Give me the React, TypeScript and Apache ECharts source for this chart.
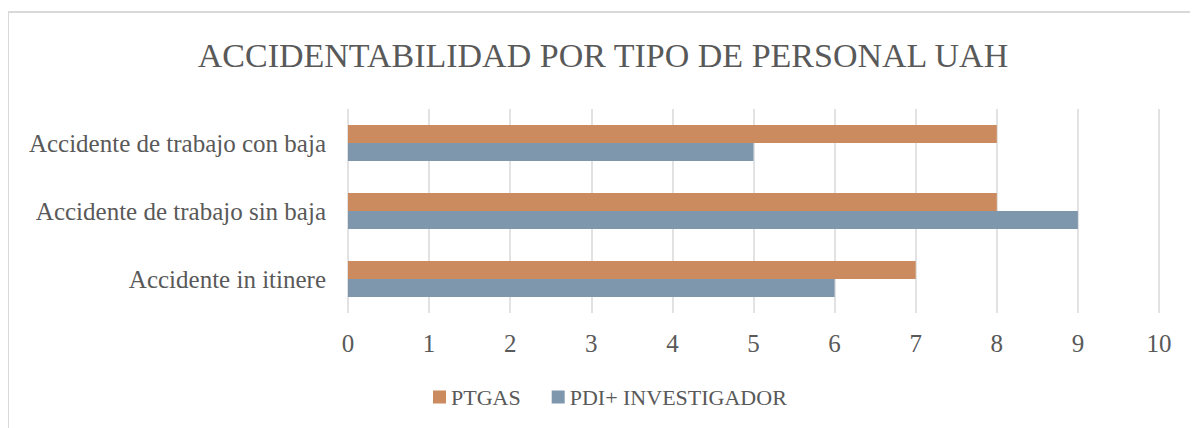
import React, { useEffect, useRef } from "react";
import * as echarts from "echarts";

const categories = [
  "Accidente in itinere",
  "Accidente de trabajo sin baja",
  "Accidente de trabajo con baja",
];
const ptgasValues = [7, 8, 8];
const pdiValues = [6, 9, 5];
const xTicks = { min: 0, max: 10, interval: 1 };
const titleText = "ACCIDENTABILIDAD POR TIPO DE PERSONAL UAH";
const seriesNames = ["PTGAS", "PDI+ INVESTIGADOR"];

const FONT = "'Liberation Serif', 'DejaVu Serif', serif";
const TEXT = "#595959";

export default function App() {
  const ref = useRef<HTMLDivElement>(null);
  useEffect(() => {
    if (!ref.current) return;
    const chart = echarts.init(ref.current, undefined, { renderer: "svg" });
    chart.setOption({
      animation: false,
      title: {
        text: titleText,
        left: "center",
        top: 25,
        textStyle: { fontFamily: FONT, fontSize: 34, fontWeight: "normal", color: TEXT },
      },
      graphic: [
        {
          type: "rect",
          shape: { x: 0, y: 4, width: 1300, height: 600 },
          style: { fill: "none", stroke: "#D9D9D9", lineWidth: 2 },
          silent: true,
        },
      ],
      legend: {
        data: seriesNames,
        left: 420,
        top: 373,
        itemWidth: 13,
        itemHeight: 13,
        itemGap: 31,
        icon: "rect",
        textStyle: { fontFamily: FONT, fontSize: 22, color: TEXT },
      },
      grid: { left: 340, right: 39, top: 101, bottom: 115, containLabel: false },
      xAxis: {
        type: "value",
        min: xTicks.min,
        max: xTicks.max,
        interval: xTicks.interval,
        axisLine: { show: false },
        axisTick: { show: false },
        splitLine: { show: true, lineStyle: { color: "#D9D9D9", width: 1.5 } },
        axisLabel: { fontFamily: FONT, fontSize: 25, color: TEXT, margin: 18 },
      },
      yAxis: {
        type: "category",
        data: categories,
        axisLine: { show: false },
        axisTick: { show: false },
        axisLabel: { fontFamily: FONT, fontSize: 25, color: TEXT, margin: 22 },
      },
      series: [
        {
          name: seriesNames[0],
          type: "bar",
          data: ptgasValues,
          barGap: "0%",
          barCategoryGap: "47%",
          itemStyle: { color: "#CC8B5E" },
        },
        {
          name: seriesNames[1],
          type: "bar",
          data: pdiValues,
          barGap: "0%",
          barCategoryGap: "47%",
          itemStyle: { color: "#7F97AD" },
        },
      ],
    });
    return () => chart.dispose();
  }, []);
  return <div ref={ref} style={{ width: 1190, height: 420 }} />;
}
